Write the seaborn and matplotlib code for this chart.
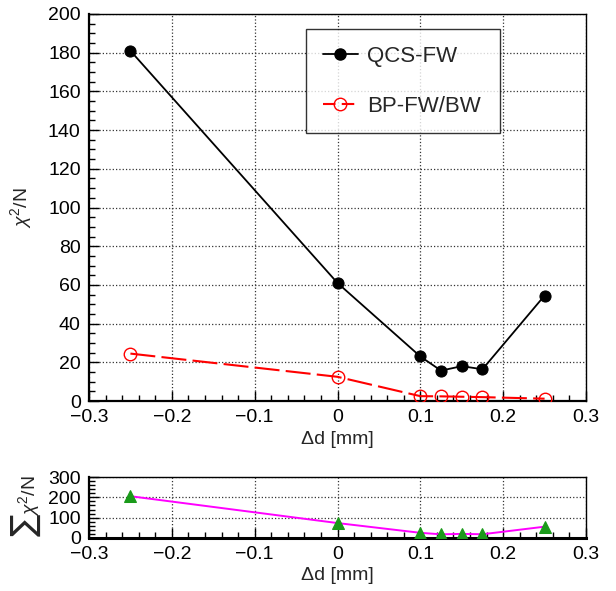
import numpy as np
import pandas as pd
import matplotlib
matplotlib.use("Agg")
import matplotlib.pyplot as plt
import seaborn as sns
from matplotlib.ticker import MultipleLocator
from matplotlib.lines import Line2D

# ---- data ----
dd = [-0.25, 0.0, 0.10, 0.125, 0.15, 0.175, 0.25]
qcs_fw = [181.0, 61.0, 23.0, 15.7, 18.0, 16.4, 54.5]
bp_fwbw = [24.5, 12.5, 2.5, 2.4, 2.2, 2.0, 1.2]
sum_chi = [205.5, 73.5, 25.5, 18.1, 20.2, 18.4, 55.7]
labels = ["QCS-FW", "BP-FW/BW"]
xtick_labels = ["\u22120.3", "\u22120.2", "\u22120.1", "0", "0.1", "0.2", "0.3"]

sns.set_theme(style="white")
plt.rcParams['font.family'] = ['Liberation Sans', 'DejaVu Sans']
plt.rcParams['mathtext.fontset'] = 'custom'
plt.rcParams['mathtext.rm'] = 'Liberation Sans'
plt.rcParams['mathtext.it'] = 'Liberation Sans:italic'

fig = plt.figure(figsize=(6.16, 5.91), dpi=100)
W, H = 616, 591
def rect(l, t, r, b):
    return [l / W, 1 - b / H, (r - l) / W, (b - t) / H]

ax = fig.add_axes(rect(89, 14, 586, 401))
ax2 = fig.add_axes(rect(89, 477, 586, 538))

df = pd.DataFrame({"dd": dd, "qcs": qcs_fw, "bp": bp_fwbw, "sum": sum_chi})

dash = (0, (12, 3))
sns.lineplot(data=df, x="dd", y="qcs", ax=ax, color="black", marker="o",
             markersize=8, markerfacecolor="black", markeredgecolor="black",
             linewidth=1.3, sort=False, zorder=3)
sns.lineplot(data=df, x="dd", y="bp", ax=ax, color="red", marker="o",
             markersize=9, markerfacecolor="none", markeredgecolor="red",
             markeredgewidth=1.0, linewidth=1.5, linestyle=dash,
             sort=False, zorder=3)
sns.lineplot(data=df, x="dd", y="sum", ax=ax2, color="magenta", marker="^",
             markersize=8, markerfacecolor="#1a9a1a", markeredgecolor="#1a9a1a",
             linewidth=1.4, sort=False, zorder=3)

for a, (ymin, ymax, ymaj, ymin_) in zip([ax, ax2], [(0, 200, 20, 5), (0, 300, 100, 20)]):
    a.set_xlim(-0.3, 0.3)
    a.set_ylim(ymin, ymax)
    a.xaxis.set_major_locator(MultipleLocator(0.1))
    a.xaxis.set_minor_locator(MultipleLocator(0.02))
    a.yaxis.set_major_locator(MultipleLocator(ymaj))
    a.yaxis.set_minor_locator(MultipleLocator(ymin_))
    a.tick_params(which="both", direction="in", top=False, right=False,
                  bottom=True, left=True, labelsize=14, colors="black")
    a.tick_params(axis="x", pad=6)
    a.tick_params(axis="y", pad=6)
    a.tick_params(which="major", length=7, width=1)
    a.tick_params(which="minor", length=4, width=1)
    a.grid(True, which="major", linestyle=":", color="#333333", linewidth=0.9)
    for s in a.spines.values():
        s.set_color("black")
        s.set_linewidth(1.0)
    a.spines["left"].set_linewidth(1.6)
    a.spines["bottom"].set_linewidth(1.6)
    a.set_xticks(np.round(np.arange(-0.3, 0.31, 0.1), 2))
    a.set_xticklabels(xtick_labels)

ax2.spines["bottom"].set_linewidth(2.2)

ax.set_xlabel("\u0394d [mm]", fontsize=14, labelpad=3)
ax.set_ylabel(r"$\chi^2$/N", fontsize=14, labelpad=10)
ax2.set_xlabel("\u0394d [mm]", fontsize=14, labelpad=3)
ax2.set_ylabel("")
fig.text(25 / W, 1 - 525 / H, "\u2211", rotation=90, fontsize=24,
         ha="center", va="center", family=["DejaVu Sans"])
fig.text(29 / W, 1 - 496 / H, r"$\chi^2$/N", rotation=90, fontsize=14,
         ha="center", va="center")

handles = [
    Line2D([], [], color="black", marker="o", markersize=8, linewidth=1.3,
           markerfacecolor="black", markeredgecolor="black"),
    Line2D([], [], color="red", marker="o", markersize=9, linewidth=1.5,
           linestyle=(0, (6, 3)), markerfacecolor="none", markeredgecolor="red"),
]
x0 = (306 - 89) / 497
x1 = (500 - 89) / 497
y1 = (401 - 29) / 387
y0 = (401 - 131) / 387
leg = ax.legend(handles, labels, loc="upper left",
                bbox_to_anchor=(x0, y0, x1 - x0, y1 - y0), mode="expand",
                fontsize=16, frameon=True, fancybox=False, handlelength=1.6,
                borderpad=0.75, labelspacing=1.3, handletextpad=0.4,
                borderaxespad=0)
leg.get_frame().set_edgecolor("black")
leg.get_frame().set_linewidth(1.0)

fig.savefig("out.png", dpi=100)
